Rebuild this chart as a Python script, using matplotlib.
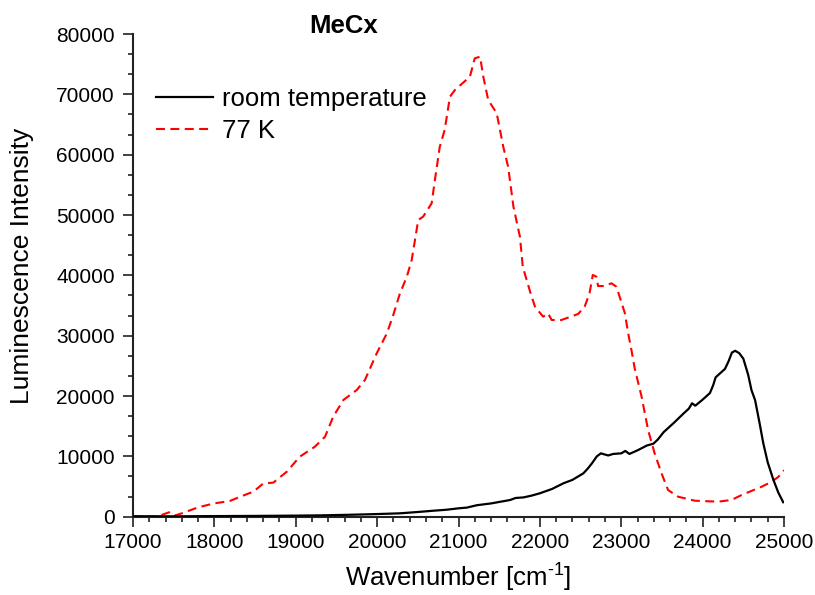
import matplotlib
matplotlib.use("Agg")
import matplotlib.pyplot as plt
from matplotlib.ticker import MultipleLocator, AutoMinorLocator

plt.rcParams['font.family'] = ['Liberation Sans', 'DejaVu Sans']
plt.rcParams['mathtext.fontset'] = 'custom'
plt.rcParams['mathtext.rm'] = 'Liberation Sans'
plt.rcParams['mathtext.it'] = 'Liberation Sans:italic'
plt.rcParams['mathtext.bf'] = 'Liberation Sans:bold'

title = "MeCx"
xlabel = r"Wavenumber [cm$^{\text{-1}}$]"
ylabel = "Luminescence Intensity"
labels = ["room temperature", "77 K"]

rt_x = [17000, 17500, 18000, 18500, 19000, 19300, 19600, 19900, 20100, 20280,
        20500, 20690, 20850, 21000, 21100, 21225, 21400, 21635, 21700, 21800,
        21900, 22000, 22150, 22290, 22400, 22535, 22590, 22640, 22700, 22750,
        22800, 22840, 22900, 23000, 23050, 23100, 23200, 23315, 23395, 23450,
        23520, 23650, 23765, 23830, 23870, 23910, 24000, 24090, 24130, 24160,
        24275, 24320, 24360, 24400, 24450, 24500, 24560, 24600, 24645, 24700,
        24745, 24800, 24870, 24930, 24990]
rt_y = [80, 60, 100, 130, 180, 220, 300, 400, 480, 560,
        780, 990, 1150, 1390, 1500, 1900, 2200, 2770, 3100, 3200,
        3500, 3880, 4600, 5540, 6100, 7190, 8000, 8850, 10000, 10500,
        10300, 10150, 10400, 10500, 10900, 10400, 11000, 11800, 12100, 12800,
        14000, 15600, 17100, 17900, 18800, 18400, 19400, 20500, 21800, 23100,
        24500, 25800, 27200, 27500, 27100, 26200, 23500, 21000, 19300, 15500,
        12200, 9000, 6100, 4000, 2400]

lt_x = [17000, 17290, 17455, 17515, 17600, 17800, 17995, 18190, 18315, 18480,
        18600, 18725, 18890, 19050, 19235, 19360, 19460, 19585, 19750, 19850,
        19995, 20120, 20200, 20280, 20365, 20425, 20505, 20565, 20670, 20710,
        20770, 20830, 20895, 20955, 21140, 21200, 21265, 21305, 21365, 21470,
        21550, 21610, 21675, 21755, 21790, 21880, 21940, 22040, 22100, 22145,
        22265, 22470, 22550, 22610, 22650, 22695, 22715, 22795, 22880, 22940,
        23000, 23045, 23085, 23125, 23165, 23250, 23330, 23410, 23495, 23575,
        23700, 23905, 24190, 24355, 24480, 24725, 24850, 24930, 25000]
lt_y = [0, 0, 780, 200, 560, 1550, 2200, 2600, 3300, 4150,
        5500, 5650, 7460, 9950, 11600, 13260, 16570, 19340, 21000, 22650,
        27080, 30390, 33500, 37000, 39770, 42540, 49170, 49720, 51940, 55800,
        61320, 64090, 69610, 70710, 72920, 75970, 76240, 72920, 69060, 66850,
        61320, 58000, 51380, 46400, 41430, 37290, 34800, 33150, 33700, 32600,
        32600, 33600, 34800, 37000, 40060, 39770, 38230, 38230, 38680, 38120,
        35630, 33700, 30390, 27630, 24600, 19890, 14370, 10510, 7190, 4420,
        3310, 2650, 2490, 2770, 3600, 4970, 5800, 6600, 7700]

fig = plt.figure(figsize=(8.15, 5.95), dpi=100)
ax = fig.add_axes([133/815, 1-516.7/595, 651/815, 482.7/595])

ax.plot(rt_x, rt_y, color='black', lw=1.6, label=labels[0], zorder=3)
ax.plot(lt_x, lt_y, color='#ff0000', lw=1.5, linestyle=(0, (4.3, 2.6)), label=labels[1], zorder=2)

ax.set_xlim(17000, 25000)
ax.set_ylim(0, 80000)
ax.xaxis.set_major_locator(MultipleLocator(1000))
ax.xaxis.set_minor_locator(MultipleLocator(200))
ax.yaxis.set_major_locator(MultipleLocator(10000))
ax.yaxis.set_minor_locator(AutoMinorLocator(3))

for s in ['top', 'right']:
    ax.spines[s].set_visible(False)
for s in ['left', 'bottom']:
    ax.spines[s].set_linewidth(1.5)
    ax.spines[s].set_color('#222222')

ax.tick_params(which='major', direction='out', length=7, width=1.2, labelsize=15, colors='#222222')
ax.tick_params(which='minor', direction='out', length=3.8, width=1.2, colors='#222222')
ax.tick_params(axis='y', which='major', pad=6)
ax.tick_params(axis='x', which='major', pad=5)
for lab in ax.get_xticklabels() + ax.get_yticklabels():
    lab.set_color('black')

ax.set_xlabel(xlabel, fontsize=18.5, labelpad=7)
ax.set_ylabel(ylabel, fontsize=19)
ax.yaxis.set_label_coords(-0.152, 0.519)

ax.text(0.324, 1.003, title, transform=ax.transAxes, ha='center', va='baseline',
        fontsize=18.5, fontweight='bold')

ax.legend(loc='upper left', bbox_to_anchor=(0.036, 0.89), frameon=False,
          fontsize=18.5, handlelength=2.2, handletextpad=0.35, labelspacing=0.30,
          borderpad=0, borderaxespad=0)

fig.savefig('out.png', dpi=100)
